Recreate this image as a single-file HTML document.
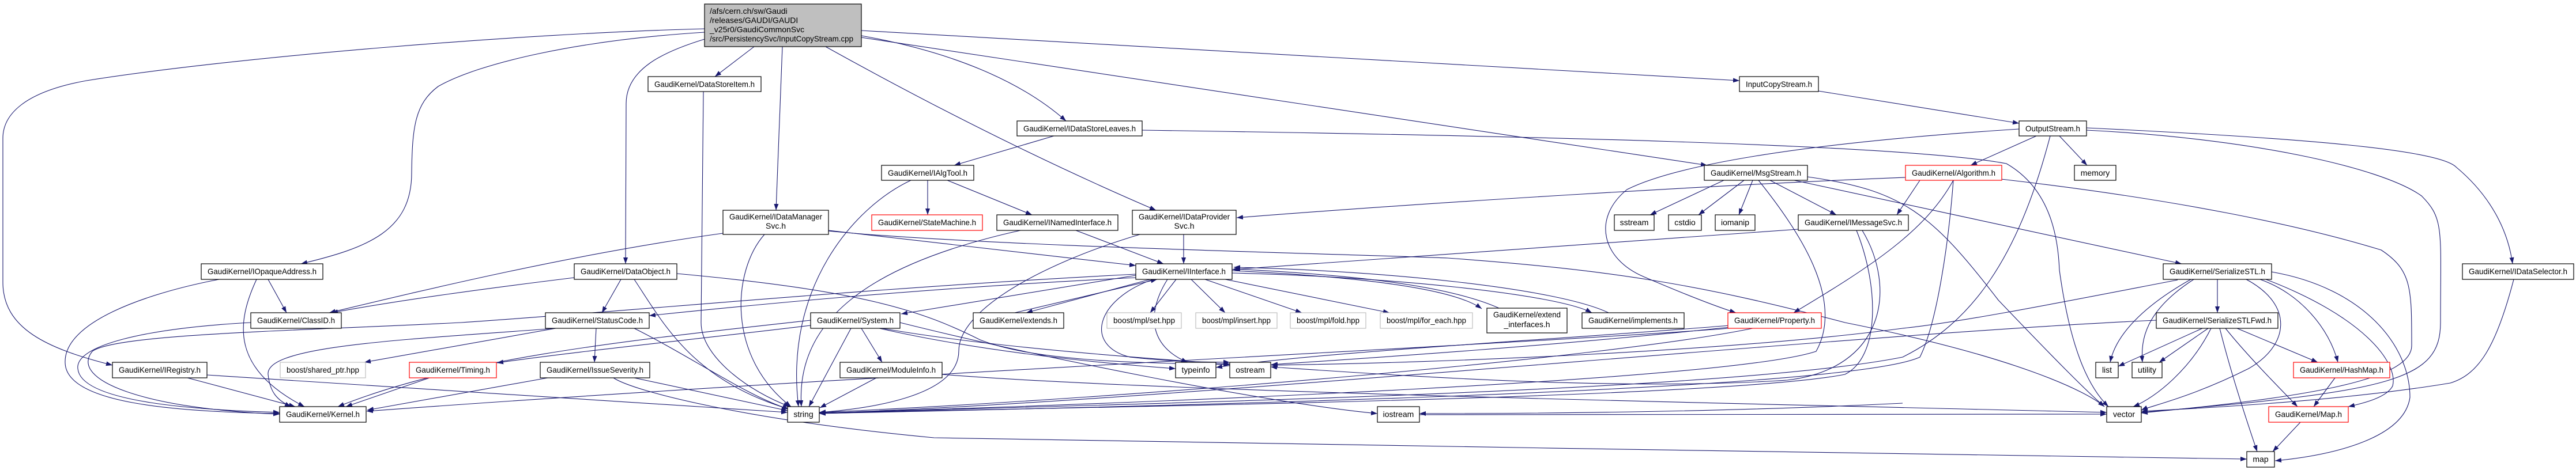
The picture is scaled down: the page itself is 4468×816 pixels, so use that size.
<!DOCTYPE html>
<html><head><meta charset="utf-8"><style>
html,body{margin:0;padding:0;background:#fff;}
svg{display:block;}
text{font-family:"Liberation Sans",Helvetica,sans-serif;font-size:14px;fill:#000;}
.e{fill:none;stroke:#191970;stroke-width:1.1;}
.n{fill:#fff;stroke:#000;stroke-width:1.2;}
.r{fill:#fff;stroke:#ff0000;stroke-width:1.2;}
.g{fill:#fff;stroke:#bfbfbf;stroke-width:1.2;}
</style></head><body>
<svg width="4468" height="816" viewBox="0 0 4468 816" xmlns="http://www.w3.org/2000/svg">
<defs><marker id="a" markerUnits="userSpaceOnUse" markerWidth="11" markerHeight="8" refX="11" refY="4" orient="auto"><path d="M0,0 L11,4 L0,8 z" fill="#191970"/></marker></defs>
<g class="e" marker-end="url(#a)">
<path d="M1222,50 C900,58 400,100 150,140 C40,160 5,200 5,240 L5,490 C5,570 80,605 195,634"/>
<path d="M1222,56 C1000,70 830,110 760,150 C720,180 715,220 714,300 C714,400 640,430 522,458"/>
<path d="M1222,68 C1150,90 1086,120 1086,180 L1085,458"/>
<path d="M1308,81 L1240,133"/>
<path d="M1357,81 L1346,365"/>
<path d="M1432,81 C1700,230 1900,320 2005,365"/>
<path d="M1494,62 C1650,90 1770,140 1849,210"/>
<path d="M1494,65 L2961,287"/>
<path d="M1494,53 L3017,140"/>
<path d="M3154,158 L3502,214"/>
<path d="M3532,236 L3418,287"/>
<path d="M3572,236 L3620,287"/>
<path d="M3619,222 C4000,240 4230,260 4260,290 C4320,340 4350,400 4358,458"/>
<path d="M3619,226 C3900,240 4130,290 4200,340 C4240,380 4233,400 4233,560 C4233,660 4150,680 3714,716"/>
<path d="M3502,224 C3100,250 2900,290 2822,329 C2760,380 2780,450 2850,480 C2920,510 2970,530 3011,543"/>
<path d="M3556,236 C3500,450 3420,560 3300,620 C3000,680 2000,700 1421,717"/>
<path d="M1828,236 L1655,287"/>
<path d="M1981,226 C2600,235 3300,250 3480,284 C3560,330 3570,420 3572,469 C3590,600 3620,670 3657,706"/>
<path d="M1609,313 L1609,373"/>
<path d="M1643,313 L1790,373"/>
<path d="M1580,313 C1480,360 1360,500 1385,706"/>
<path d="M1866,400 L2018,458"/>
<path d="M1770,400 C1500,460 1380,560 1390,706"/>
<path d="M1437,400 L1970,461"/>
<path d="M1254,405 C1000,440 750,500 571,543"/>
<path d="M1326,407 C1270,470 1260,620 1372,706"/>
<path d="M1437,401 C1700,427 2300,440 2511,448 C2800,469 2954,495 3200,560 C3500,620 3620,680 3650,706"/>
<path d="M2053,407 L2053,458"/>
<path d="M1977,407 C1800,460 1663,540 1663,609 C1663,690 1500,710 1421,716"/>
<path d="M1220,159 L1216,560 C1216,620 1300,680 1370,706"/>
<path d="M996,482 C850,500 700,520 575,543"/>
<path d="M1077,485 L1044,543"/>
<path d="M1100,485 C1150,560 1200,660 1368,710"/>
<path d="M1174,475 C1500,505 1600,540 1700,590 C1800,630 2000,630 2133,633"/>
<path d="M465,485 L497,543"/>
<path d="M380,485 C250,510 110,560 113,630 C115,700 300,715 485,718"/>
<path d="M445,485 C410,560 400,640 528,706"/>
<path d="M435,560 C250,570 130,600 135,640 C140,700 350,712 485,716"/>
<path d="M325,656 L512,706"/>
<path d="M359,651 L1366,716"/>
<path d="M964,570 C700,590 460,600 465,650 C468,680 480,695 505,706"/>
<path d="M964,570 L632,629"/>
<path d="M1034,570 L1031,629"/>
<path d="M1100,570 C1200,620 1300,690 1368,710"/>
<path d="M745,656 L600,706"/>
<path d="M950,656 L637,712"/>
<path d="M1100,656 L1366,713"/>
<path d="M1064,656 C1100,680 1300,730 1620,760 C2240,771 3360,789 3897,797"/>
<path d="M1406,556 C1100,590 800,620 586,706"/>
<path d="M1406,565 C1200,590 1000,610 862,630"/>
<path d="M1476,570 L1403,706"/>
<path d="M1494,570 L1530,629"/>
<path d="M1525,570 C1700,610 1900,630 2039,640"/>
<path d="M1530,570 C1700,600 1950,620 2133,632"/>
<path d="M1561,560 C1800,620 2200,700 2389,718"/>
<path d="M1520,656 L1422,708"/>
<path d="M1634,650 C2000,680 3000,700 3654,716"/>
<path d="M1970,478 L1563,545"/>
<path d="M1970,482 C1600,500 1300,530 1126,548"/>
<path d="M1970,476 C1500,500 1100,540 800,560 C500,575 200,580 160,610 C120,660 250,710 485,719"/>
<path d="M1995,485 L1780,543"/>
<path d="M1760,543 L2007,485"/>
<path d="M2000,485 C1900,520 1880,600 1960,620 C2050,630 2100,628 2133,629"/>
<path d="M2025,485 C1990,540 1990,600 2060,629"/>
<path d="M2040,485 L1995,543"/>
<path d="M2066,485 L2125,543"/>
<path d="M2090,485 L2258,543"/>
<path d="M2125,485 L2410,543"/>
<path d="M2137,470 C2350,480 2520,500 2570,536"/>
<path d="M2600,535 C2500,490 2300,475 2140,467"/>
<path d="M2137,474 C2400,480 2700,510 2761,543"/>
<path d="M2790,543 C2700,500 2400,470 2140,464"/>
<path d="M3330,313 L3290,373"/>
<path d="M3305,308 C3000,320 2500,350 2145,378"/>
<path d="M3388,313 C3340,400 3250,460 3111,543"/>
<path d="M3388,313 C3380,420 3360,560 3330,620 C3200,680 2000,705 1421,718"/>
<path d="M3471,311 C3784,347 3996,393 4130,434 C4183,469 4183,500 4183,600 C4183,660 4000,690 3714,717"/>
<path d="M2990,313 L2862,373"/>
<path d="M3025,313 L2946,373"/>
<path d="M3040,313 L3016,373"/>
<path d="M3070,313 L3185,373"/>
<path d="M3050,313 C3120,400 3200,520 3150,610 C3000,660 2000,700 1421,717"/>
<path d="M3112,313 L3784,458"/>
<path d="M3135,307 C3300,330 3350,370 3466,521 C3570,630 3620,680 3650,706"/>
<path d="M3119,398 L2137,468"/>
<path d="M3220,400 C3260,500 3260,620 3200,650 C3000,690 2000,705 1421,717"/>
<path d="M3230,400 C3290,500 3270,640 3100,660 C2800,680 2400,650 2204,637"/>
<path d="M3040,570 C2800,620 2000,690 1421,716"/>
<path d="M3000,568 C2700,600 2400,620 2205,633"/>
<path d="M3000,565 C2700,590 2300,610 2109,638"/>
<path d="M3000,570 C2600,600 1500,650 636,714"/>
<path d="M3846,485 L3846,543"/>
<path d="M3800,485 C3720,530 3670,580 3660,629"/>
<path d="M3805,485 C3720,540 3713,590 3716,629"/>
<path d="M3896,485 C3980,530 3970,600 3900,640 C3800,690 3730,705 3714,712"/>
<path d="M3920,485 C3990,510 4040,570 4055,629"/>
<path d="M3930,485 C4100,550 4160,630 4150,670 C4140,690 4100,700 4073,706"/>
<path d="M3940,472 C4100,500 4180,600 4180,690 C4170,760 4050,790 3946,800"/>
<path d="M3777,486 C3600,520 3400,560 3300,570 C3000,610 2500,630 2205,634"/>
<path d="M3820,570 L3674,636"/>
<path d="M3830,570 L3745,629"/>
<path d="M3835,570 C3800,640 3740,690 3700,706"/>
<path d="M3880,570 L4020,629"/>
<path d="M3860,570 C3900,620 3960,680 3985,706"/>
<path d="M3850,570 C3870,650 3900,740 3915,784"/>
<path d="M3740,556 C3200,580 2000,700 1421,717"/>
<path d="M4050,656 L4013,706"/>
<path d="M3990,733 L3942,784"/>
<path d="M4360,485 C4330,600 4300,650 4250,665 C4100,690 3900,705 3714,714"/>
<path d="M3300,700 C3000,715 2700,718 2462,718"/>
<path d="M2462,720 C3000,720 3400,719 3654,719"/>
</g>
<g>
<rect x="1222" y="7" width="272" height="74" fill="#bfbfbf" stroke="#000" stroke-width="1.2"/>
<text x="1231" y="24">/afs/cern.ch/sw/Gaudi</text>
<text x="1231" y="40">/releases/GAUDI/GAUDI</text>
<text x="1231" y="56">_v25r0/GaudiCommonSvc</text>
<text x="1231" y="72" textLength="249" lengthAdjust="spacingAndGlyphs">/src/PersistencySvc/InputCopyStream.cpp</text>
</g>
<g text-anchor="middle">
<rect class="n" x="349" y="458" width="211" height="27"/><text x="454.5" y="476" textLength="189" lengthAdjust="spacingAndGlyphs">GaudiKernel/IOpaqueAddress.h</text>
<rect class="n" x="435" y="543" width="157" height="27"/><text x="513.5" y="561" textLength="135" lengthAdjust="spacingAndGlyphs">GaudiKernel/ClassID.h</text>
<rect class="n" x="195" y="629" width="164" height="27"/><text x="277" y="647" textLength="142" lengthAdjust="spacingAndGlyphs">GaudiKernel/IRegistry.h</text>
<rect class="g" x="486" y="629" width="148" height="27"/><text x="560" y="647" textLength="126" lengthAdjust="spacingAndGlyphs">boost/shared_ptr.hpp</text>
<rect class="r" x="710" y="629" width="151" height="27"/><text x="785.5" y="647" textLength="129" lengthAdjust="spacingAndGlyphs">GaudiKernel/Timing.h</text>
<rect class="n" x="937" y="629" width="190" height="27"/><text x="1032" y="647" textLength="168" lengthAdjust="spacingAndGlyphs">GaudiKernel/IssueSeverity.h</text>
<rect class="n" x="485" y="706" width="150" height="27"/><text x="560" y="724" textLength="128" lengthAdjust="spacingAndGlyphs">GaudiKernel/Kernel.h</text>
<rect class="n" x="996" y="458" width="178" height="27"/><text x="1085" y="476" textLength="156" lengthAdjust="spacingAndGlyphs">GaudiKernel/DataObject.h</text>
<rect class="n" x="946" y="543" width="180" height="27"/><text x="1036" y="561" textLength="158" lengthAdjust="spacingAndGlyphs">GaudiKernel/StatusCode.h</text>
<rect class="n" x="1124" y="133" width="196" height="26"/><text x="1222" y="151" textLength="174" lengthAdjust="spacingAndGlyphs">GaudiKernel/DataStoreItem.h</text>
<rect class="n" x="1764" y="210" width="217" height="26"/><text x="1872.5" y="228" textLength="195" lengthAdjust="spacingAndGlyphs">GaudiKernel/IDataStoreLeaves.h</text>
<rect class="n" x="1529" y="287" width="160" height="26"/><text x="1609" y="305" textLength="138" lengthAdjust="spacingAndGlyphs">GaudiKernel/IAlgTool.h</text>
<rect class="n" x="1254" y="365" width="183" height="42"/><text x="1345.5" y="381" textLength="161" lengthAdjust="spacingAndGlyphs">GaudiKernel/IDataManager</text><text x="1345.5" y="397">Svc.h</text>
<rect class="r" x="1512" y="373" width="192" height="27"/><text x="1608" y="391" textLength="170" lengthAdjust="spacingAndGlyphs">GaudiKernel/StateMachine.h</text>
<rect class="n" x="1729" y="373" width="210" height="27"/><text x="1834" y="391" textLength="188" lengthAdjust="spacingAndGlyphs">GaudiKernel/INamedInterface.h</text>
<rect class="n" x="1964" y="365" width="180" height="42"/><text x="2054" y="381" textLength="158" lengthAdjust="spacingAndGlyphs">GaudiKernel/IDataProvider</text><text x="2054" y="397">Svc.h</text>
<rect class="n" x="1970" y="458" width="167" height="27"/><text x="2053.5" y="476" textLength="145" lengthAdjust="spacingAndGlyphs">GaudiKernel/IInterface.h</text>
<rect class="n" x="1406" y="543" width="155" height="27"/><text x="1483.5" y="561" textLength="133" lengthAdjust="spacingAndGlyphs">GaudiKernel/System.h</text>
<rect class="n" x="1688" y="543" width="157" height="27"/><text x="1766.5" y="561" textLength="135" lengthAdjust="spacingAndGlyphs">GaudiKernel/extends.h</text>
<rect class="g" x="1920" y="543" width="129" height="27"/><text x="1984.5" y="561" textLength="107" lengthAdjust="spacingAndGlyphs">boost/mpl/set.hpp</text>
<rect class="g" x="2074" y="543" width="141" height="27"/><text x="2144.5" y="561" textLength="119" lengthAdjust="spacingAndGlyphs">boost/mpl/insert.hpp</text>
<rect class="g" x="2238" y="543" width="131" height="27"/><text x="2303.5" y="561" textLength="109" lengthAdjust="spacingAndGlyphs">boost/mpl/fold.hpp</text>
<rect class="g" x="2394" y="543" width="160" height="27"/><text x="2474" y="561" textLength="138" lengthAdjust="spacingAndGlyphs">boost/mpl/for_each.hpp</text>
<rect class="n" x="2579" y="535" width="139" height="43"/><text x="2648.5" y="551" textLength="117" lengthAdjust="spacingAndGlyphs">GaudiKernel/extend</text><text x="2648.5" y="568">_interfaces.h</text>
<rect class="n" x="2744" y="543" width="177" height="27"/><text x="2832.5" y="561" textLength="155" lengthAdjust="spacingAndGlyphs">GaudiKernel/implements.h</text>
<rect class="r" x="2997" y="543" width="162" height="27"/><text x="3078" y="561" textLength="140" lengthAdjust="spacingAndGlyphs">GaudiKernel/Property.h</text>
<rect class="n" x="1457" y="629" width="177" height="27"/><text x="1545.5" y="647" textLength="155" lengthAdjust="spacingAndGlyphs">GaudiKernel/ModuleInfo.h</text>
<rect class="n" x="2039" y="629" width="70" height="27"/><text x="2074" y="647">typeinfo</text>
<rect class="n" x="2133" y="629" width="71" height="27"/><text x="2168.5" y="647">ostream</text>
<rect class="n" x="1366" y="706" width="55" height="27"/><text x="1393.5" y="724">string</text>
<rect class="n" x="2389" y="706" width="73" height="27"/><text x="2425.5" y="724">iostream</text>
<rect class="n" x="3017" y="133" width="137" height="26"/><text x="3085.5" y="151" textLength="115" lengthAdjust="spacingAndGlyphs">InputCopyStream.h</text>
<rect class="n" x="2956" y="287" width="179" height="26"/><text x="3045.5" y="305" textLength="157" lengthAdjust="spacingAndGlyphs">GaudiKernel/MsgStream.h</text>
<rect class="r" x="3305" y="287" width="167" height="26"/><text x="3388.5" y="305" textLength="145" lengthAdjust="spacingAndGlyphs">GaudiKernel/Algorithm.h</text>
<rect class="n" x="2800" y="373" width="69" height="27"/><text x="2834.5" y="391">sstream</text>
<rect class="n" x="2894" y="373" width="57" height="27"/><text x="2922.5" y="391">cstdio</text>
<rect class="n" x="2975" y="373" width="69" height="27"/><text x="3009.5" y="391">iomanip</text>
<rect class="n" x="3119" y="373" width="191" height="27"/><text x="3214.5" y="391" textLength="169" lengthAdjust="spacingAndGlyphs">GaudiKernel/IMessageSvc.h</text>
<rect class="n" x="3502" y="210" width="117" height="26"/><text x="3560.5" y="228" textLength="95" lengthAdjust="spacingAndGlyphs">OutputStream.h</text>
<rect class="n" x="3598" y="287" width="72" height="26"/><text x="3634" y="305">memory</text>
<rect class="n" x="3752" y="458" width="188" height="27"/><text x="3846" y="476" textLength="166" lengthAdjust="spacingAndGlyphs">GaudiKernel/SerializeSTL.h</text>
<rect class="n" x="4271" y="458" width="193" height="27"/><text x="4367.5" y="476" textLength="171" lengthAdjust="spacingAndGlyphs">GaudiKernel/IDataSelector.h</text>
<rect class="n" x="3740" y="543" width="211" height="27"/><text x="3845.5" y="561" textLength="189" lengthAdjust="spacingAndGlyphs">GaudiKernel/SerializeSTLFwd.h</text>
<rect class="n" x="3635" y="629" width="39" height="27"/><text x="3654.5" y="647">list</text>
<rect class="n" x="3698" y="629" width="52" height="27"/><text x="3724" y="647">utility</text>
<rect class="r" x="3978" y="629" width="167" height="27"/><text x="4061.5" y="647" textLength="145" lengthAdjust="spacingAndGlyphs">GaudiKernel/HashMap.h</text>
<rect class="n" x="3654" y="706" width="60" height="27"/><text x="3684" y="724">vector</text>
<rect class="r" x="3935" y="706" width="138" height="27"/><text x="4004" y="724" textLength="116" lengthAdjust="spacingAndGlyphs">GaudiKernel/Map.h</text>
<rect class="n" x="3897" y="784" width="48" height="27"/><text x="3921" y="802">map</text>
</g>
</svg>
</body></html>
